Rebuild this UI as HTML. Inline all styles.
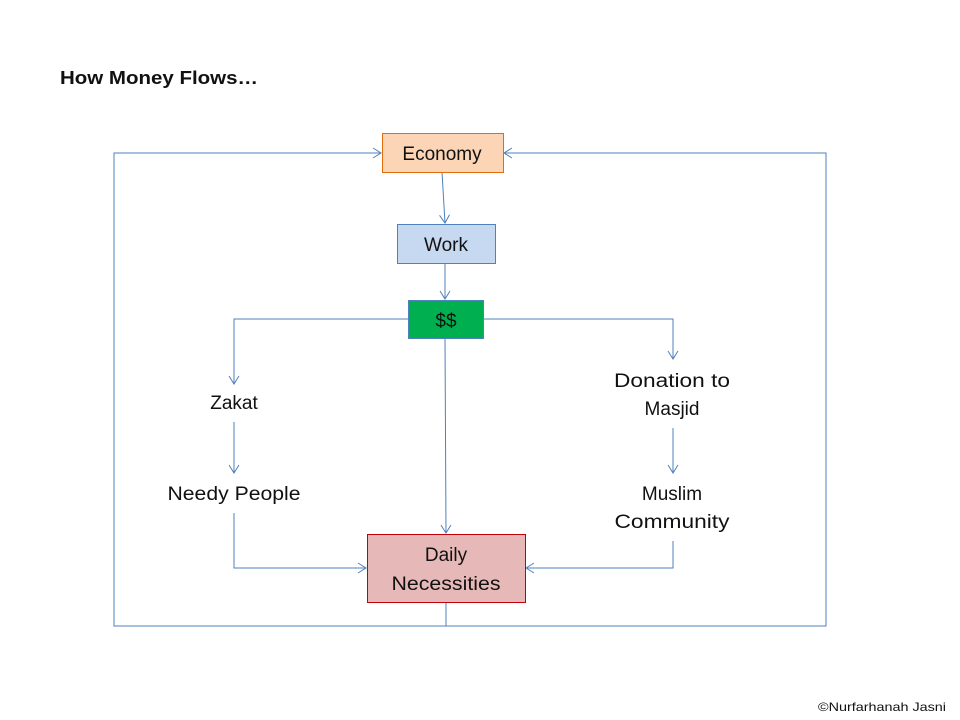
<!DOCTYPE html>
<html><head><meta charset="utf-8"><style>
html,body{margin:0;padding:0;background:#fff;}
svg{display:block;}
text{font-family:"Liberation Sans",sans-serif;fill:#111;}
</style></head><body>
<svg width="960" height="720" viewBox="0 0 960 720" xmlns="http://www.w3.org/2000/svg">
<defs>
<marker id="a" markerWidth="12" markerHeight="12" refX="10" refY="6" orient="auto" markerUnits="userSpaceOnUse">
<path d="M2,1 L10,6 L2,11" fill="none" stroke="#4f81bd" stroke-width="1"/>
</marker>
</defs>
<text x="60" y="84" font-size="18" font-weight="bold" textLength="198" lengthAdjust="spacingAndGlyphs">How Money Flows…</text>
<g fill="none" stroke="#4f81bd" stroke-width="1">
<path d="M442,172 L445,223" marker-end="url(#a)"/>
<path d="M445,263 L445,299" marker-end="url(#a)"/>
<path d="M408,319 L234,319 L234,384" marker-end="url(#a)"/>
<path d="M483,319 L673,319 L673,359" marker-end="url(#a)"/>
<path d="M445,338 L446,533" marker-end="url(#a)"/>
<path d="M234,422 L234,473" marker-end="url(#a)"/>
<path d="M234,513 L234,568 L366,568" marker-end="url(#a)"/>
<path d="M673,428 L673,473" marker-end="url(#a)"/>
<path d="M673,541 L673,568 L526,568" marker-end="url(#a)"/>
<path d="M446,602 L446,626"/>
<path d="M446,626 L114,626 L114,153 L381,153" marker-end="url(#a)"/>
<path d="M446,626 L826,626 L826,153 L504,153" marker-end="url(#a)"/>
</g>
<rect x="382.5" y="133.5" width="121" height="39" fill="#fbd5b5" stroke="#e46c0a"/>
<rect x="397.5" y="224.5" width="98" height="39" fill="#c6d9f1" stroke="#4f81bd"/>
<rect x="408.5" y="300.5" width="75" height="38" fill="#00b050" stroke="#4f81bd"/>
<rect x="367.5" y="534.5" width="158" height="68" fill="#e6b9b8" stroke="#c0000b"/>
<g font-size="19" text-anchor="middle">
<text x="442" y="160">Economy</text>
<text x="446" y="251">Work</text>
<text x="446" y="327">$$</text>
<text x="446" y="561">Daily</text>
<text x="446" y="590" textLength="109" lengthAdjust="spacingAndGlyphs">Necessities</text>
<text x="234" y="409">Zakat</text>
<text x="234" y="500" textLength="133" lengthAdjust="spacingAndGlyphs">Needy People</text>
<text x="672" y="387" textLength="116" lengthAdjust="spacingAndGlyphs">Donation to</text>
<text x="672" y="415">Masjid</text>
<text x="672" y="500">Muslim</text>
<text x="672" y="528" textLength="115" lengthAdjust="spacingAndGlyphs">Community</text>
</g>
<text x="818" y="711" font-size="12" textLength="128" lengthAdjust="spacingAndGlyphs">©Nurfarhanah Jasni</text>
</svg>
</body></html>
